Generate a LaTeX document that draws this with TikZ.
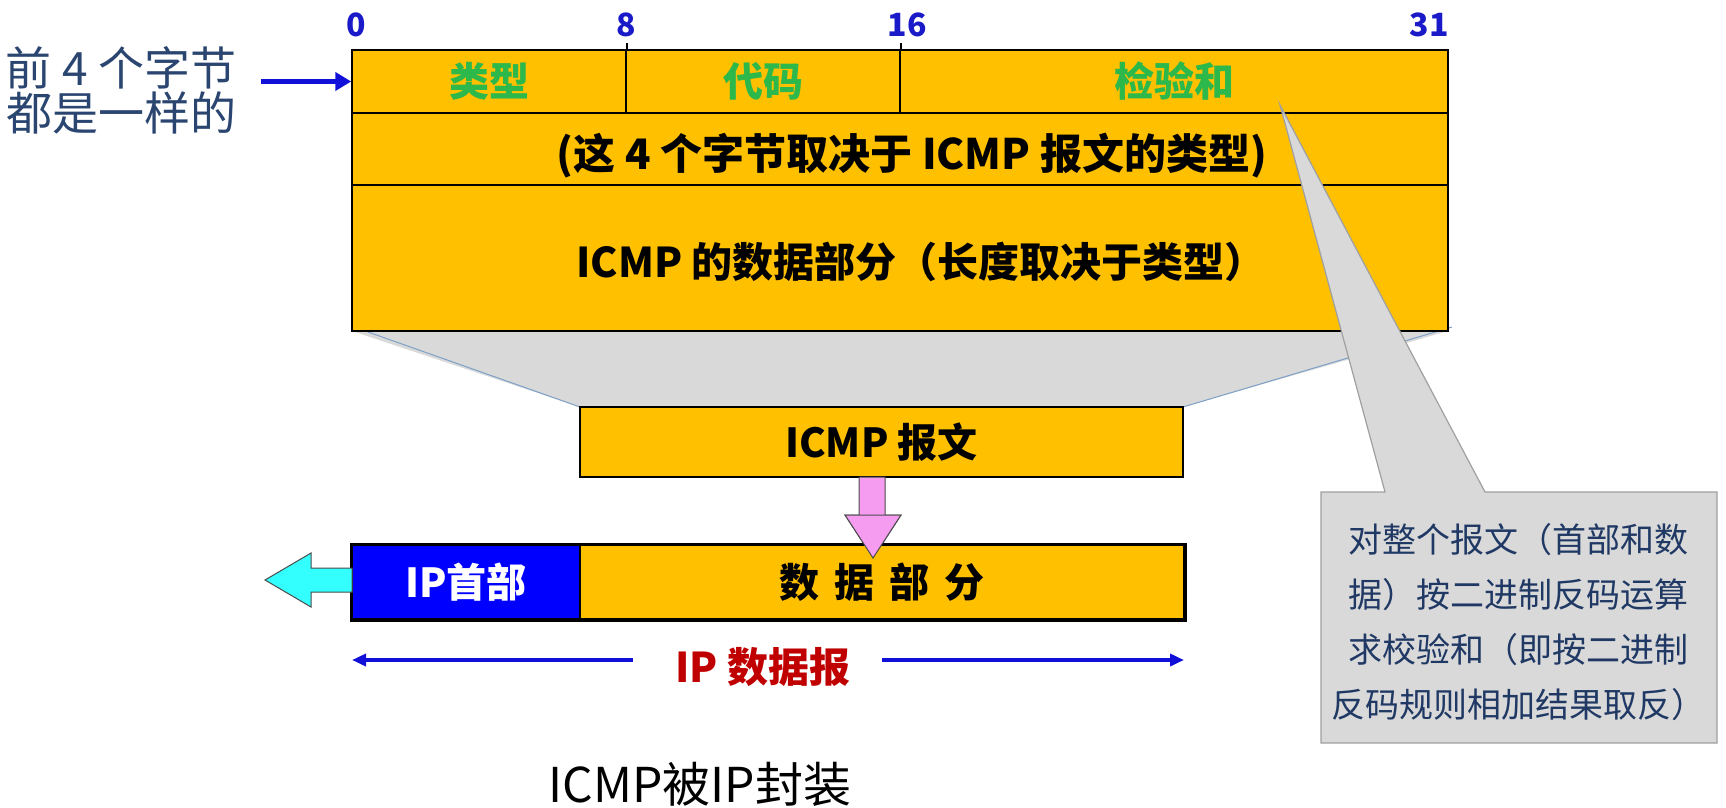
\documentclass[tikz,border=0pt]{standalone}
\usepackage{fontspec}
\setmainfont{Noto Sans CJK SC}
\usetikzlibrary{arrows.meta}
\definecolor{boxyellow}{HTML}{FFC000}
\definecolor{fieldgreen}{HTML}{2DB84B}
\definecolor{numblue}{HTML}{1A1AC8}
\definecolor{slate}{HTML}{2A4570}
\definecolor{arrowblue}{HTML}{1010D8}
\definecolor{calloutgray}{HTML}{D9D9D9}
\definecolor{calloutedge}{HTML}{A0A0A0}
\definecolor{callouttext}{HTML}{1F3864}
\definecolor{trapedge}{HTML}{7DA0C8}
\definecolor{pinkfill}{HTML}{F59CF0}
\definecolor{cyanfill}{HTML}{33FFFF}
\definecolor{hdrblue}{HTML}{0000FF}
\definecolor{dgred}{HTML}{C00000}
\newcommand{\myfs}[1]{\fontsize{#1}{#1}\selectfont}
\begin{document}
\begin{tikzpicture}[x=1pt,y=-1pt,
  cell/.style={draw=black, line width=1.5pt, fill=boxyellow, inner sep=0pt, font=\myfs{40}\bfseries},
  numlbl/.style={text=numblue, font=\myfs{32}\bfseries, inner sep=0pt},
  blockarrow/.style={line width=1pt},
  dgarrow/.style={draw=arrowblue, line width=4.5pt, -{Triangle[length=14pt,width=12pt]}}
]
\useasboundingbox (0,0) rectangle (1726,808);

% trapezoid (behind)
\fill[calloutgray] (352,331) -- (1448,331) -- (1183,407) -- (580,407) -- cycle;
\draw[trapedge, line width=1pt] (368,332) -- (580,407);
\draw[trapedge, line width=1pt] (1452,327) -- (1183,407);

% big ICMP box
\node[cell, minimum width=274pt, minimum height=63pt] (c1) at (489,81.5) {\textcolor{fieldgreen}{类型}};
\node[cell, minimum width=274pt, minimum height=63pt] (c2) at (763,81.5) {\textcolor{fieldgreen}{代码}};
\node[cell, minimum width=548pt, minimum height=63pt] (c3) at (1174,81.5) {\textcolor{fieldgreen}{检验和}};
\node[cell, minimum width=1096pt, minimum height=72pt] (r2) at (900,149) {};
\node[font=\myfs{42}\bfseries, inner sep=0pt] (r2t) at (912,156) {(这 4 个字节取决于 ICMP 报文的类型)};
\node[cell, minimum width=1096pt, minimum height=146pt] (r3) at (900,258) {};
\node[font=\myfs{41}\bfseries, inner sep=0pt] (r3t) at (921,262) {ICMP 的数据部分（长度取决于类型）};
\draw[line width=1.5pt] (c1.north east) -- ++(0,-6);
\draw[line width=1.5pt] (c2.north east) -- ++(0,-6);

% bit numbers
\node[numlbl] (n0) at (356,25) {0};
\node[numlbl] (n8) at (626,25) {8};
\node[numlbl] (n16) at (907,25) {16};
\node[numlbl, anchor=east] (n31) at (1449,25) {31};

% left label and arrow
\node[text=slate, font=\myfs{46}, align=center, inner sep=0pt] (lt) at (121,90) {前 4 个字节\\[-1pt]都是一样的};
\coordinate (lta) at (261,81.5);
\draw[arrowblue, line width=5pt, -{Triangle[length=16pt,width=18pt]}] (lta) -- (c1.west);

% ICMP message box
\node[cell, minimum width=603pt, minimum height=70pt] (icmp) at (881.5,442) {ICMP 报文};

% pink arrow
\draw[blockarrow, draw=black!70, fill=pinkfill] (859,477) -- (885,477) -- (885,515) -- (901,515) -- (873,558) -- (845,515) -- (859,515) -- cycle;

% IP datagram bar
\node[draw=black, line width=1.5pt, fill=hdrblue, minimum width=228pt, minimum height=74pt, inner sep=0pt, text=white, font=\myfs{40}\bfseries] (iph) at (466,582) {IP首部};
\node[draw=black, line width=1.5pt, fill=boxyellow, minimum width=604pt, minimum height=74pt, inner sep=0pt, font=\myfs{40}\bfseries] (ipd) at (882,582) {数\hspace{15pt}据\hspace{15pt}部\hspace{15pt}分};
\draw[line width=3.5pt] (iph.north west) rectangle (ipd.south east);
% redraw pink tip over bar
\draw[blockarrow, draw=black!70, fill=pinkfill] (885,515) -- (901,515) -- (873,558) -- (845,515) -- (859,515) -- cycle;

% cyan arrow
\draw[blockarrow, draw=black!70, fill=cyanfill] (352,568) -- (311,568) -- (311,553) -- (265,580) -- (311,607) -- (311,592) -- (352,592) -- cycle;

% IP datagram span
\node[text=dgred, font=\myfs{41}\bfseries, inner sep=0pt] (dgl) at (763,667) {IP 数据报};
\coordinate (dgleft) at (352,660);
\coordinate (dgright) at (1184,660);
\coordinate (dgl1) at (633,660);
\coordinate (dgr1) at (882,660);
\draw[dgarrow] (dgl1) -- (dgleft);
\draw[dgarrow] (dgr1) -- (dgright);

% callout with pointer
\coordinate (tip) at (1280,105);
\fill[calloutgray, draw=calloutedge, line width=1.2pt] (1321,492) -- (1385,492) -- (tip) -- (1485,492) -- (1717,492) -- (1717,743) -- (1321,743) -- cycle;
\node[text=callouttext, font=\fontsize{34}{55}\selectfont, align=center, inner sep=0pt] (note) at (1518,622) {对整个报文（首部和数\\据）按二进制反码运算\\求校验和（即按二进制\\反码规则相加结果取反）};

% caption
\node[font=\myfs{48}, inner sep=0pt] (cap) at (700,784) {ICMP被IP封装};
\end{tikzpicture}
\end{document}
